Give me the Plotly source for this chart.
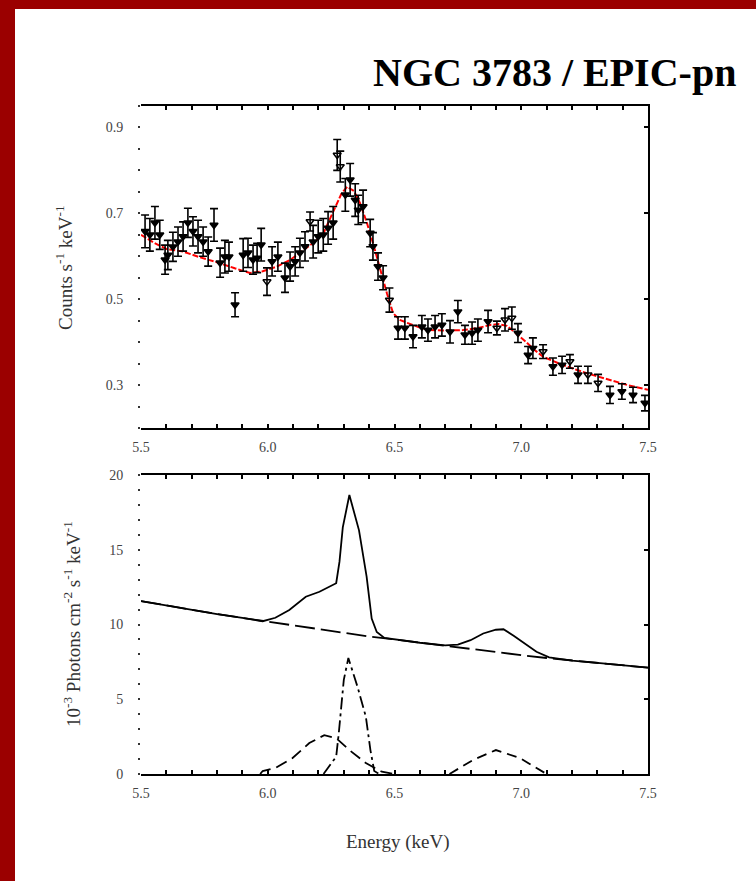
import plotly.graph_objects as go

# ---- Upper panel: EPIC-pn count spectrum ----
energy = [5.516, 5.535, 5.555, 5.574, 5.595, 5.606, 5.626, 5.646, 5.666, 5.685,
          5.705, 5.725, 5.745, 5.765, 5.788, 5.812, 5.831, 5.847, 5.871, 5.903,
          5.922, 5.942, 5.958, 5.974, 5.997, 6.017, 6.040, 6.068, 6.088, 6.108,
          6.127, 6.147, 6.167, 6.179, 6.199, 6.219, 6.238, 6.258, 6.274, 6.286,
          6.306, 6.325, 6.345, 6.357, 6.376, 6.404, 6.415, 6.435, 6.455, 6.480,
          6.514, 6.541, 6.573, 6.608, 6.632, 6.660, 6.687, 6.719, 6.750, 6.778,
          6.806, 6.829, 6.869, 6.904, 6.936, 6.963, 6.987, 7.027, 7.046, 7.086,
          7.125, 7.161, 7.192, 7.224, 7.263, 7.303, 7.350, 7.397, 7.441, 7.488]
counts = [0.658, 0.650, 0.678, 0.650, 0.592, 0.603, 0.622, 0.634, 0.646, 0.678,
          0.658, 0.646, 0.634, 0.611, 0.673, 0.585, 0.599, 0.599, 0.487, 0.603,
          0.608, 0.592, 0.596, 0.627, 0.541, 0.588, 0.599, 0.550, 0.576, 0.588,
          0.608, 0.623, 0.681, 0.634, 0.646, 0.650, 0.666, 0.678, 0.836, 0.809,
          0.743, 0.778, 0.731, 0.708, 0.716, 0.654, 0.623, 0.576, 0.550, 0.498,
          0.433, 0.433, 0.413, 0.436, 0.428, 0.436, 0.440, 0.424, 0.471, 0.417,
          0.421, 0.428, 0.448, 0.433, 0.452, 0.456, 0.421, 0.370, 0.386, 0.378,
          0.343, 0.347, 0.355, 0.324, 0.324, 0.305, 0.277, 0.285, 0.277, 0.258]
count_err = [0.038, 0.038, 0.038, 0.034, 0.034, 0.034, 0.034, 0.034, 0.034, 0.034,
             0.034, 0.038, 0.034, 0.034, 0.038, 0.034, 0.038, 0.034, 0.028, 0.038,
             0.034, 0.034, 0.034, 0.038, 0.032, 0.034, 0.034, 0.034, 0.034, 0.034,
             0.034, 0.034, 0.022, 0.038, 0.038, 0.038, 0.038, 0.038, 0.036, 0.036,
             0.038, 0.038, 0.038, 0.034, 0.038, 0.032, 0.032, 0.032, 0.028, 0.028,
             0.026, 0.026, 0.026, 0.026, 0.026, 0.026, 0.026, 0.026, 0.026, 0.022,
             0.026, 0.026, 0.026, 0.016, 0.026, 0.026, 0.022, 0.020, 0.024, 0.016,
             0.020, 0.020, 0.016, 0.020, 0.020, 0.020, 0.020, 0.018, 0.018, 0.018]
open_marker = [0, 0, 0, 0, 0, 0, 0, 0, 0, 0,
               0, 0, 0, 0, 0, 0, 0, 0, 0, 0,
               0, 0, 0, 0, 1, 0, 0, 0, 0, 0,
               0, 0, 1, 0, 0, 0, 0, 0, 1, 1,
               0, 0, 0, 0, 0, 0, 0, 0, 0, 1,
               0, 0, 0, 0, 0, 0, 0, 0, 0, 0,
               0, 0, 0, 1, 1, 1, 0, 0, 0, 1,
               0, 0, 1, 0, 1, 1, 0, 0, 0, 0]

model_e = [5.50, 5.55, 5.60, 5.666, 5.73, 5.80, 5.87, 5.93, 5.98, 6.036,
           6.09, 6.14, 6.19, 6.22, 6.26, 6.29, 6.313, 6.34, 6.364, 6.39,
           6.415, 6.44, 6.47, 6.494, 6.52, 6.55, 6.60, 6.64, 6.70, 6.77,
           6.83, 6.877, 6.91, 6.944, 6.98, 7.02, 7.05, 7.086, 7.15, 7.22,
           7.29, 7.35, 7.42, 7.50]
model_c = [0.650, 0.632, 0.617, 0.611, 0.598, 0.586, 0.572, 0.561, 0.565, 0.576,
           0.592, 0.615, 0.636, 0.654, 0.708, 0.745, 0.762, 0.752, 0.724, 0.680,
           0.631, 0.575, 0.514, 0.468, 0.452, 0.445, 0.434, 0.428, 0.427, 0.428,
           0.433, 0.440, 0.442, 0.438, 0.421, 0.400, 0.383, 0.366, 0.350, 0.335,
           0.322, 0.312, 0.300, 0.289]

# ---- Lower panel: unfolded model components ----
total_e = [5.50, 5.60, 5.70, 5.80, 5.90, 5.98, 6.03, 6.085, 6.15, 6.204,
           6.27, 6.283, 6.296, 6.322, 6.36, 6.39, 6.41, 6.43, 6.46, 6.50,
           6.60, 6.70, 6.75, 6.80, 6.85, 6.90, 6.93, 6.97, 7.00, 7.06,
           7.11, 7.20, 7.30, 7.40, 7.50]
total_f = [11.57, 11.27, 10.97, 10.70, 10.44, 10.22, 10.45, 10.97, 11.86, 12.19,
           12.76, 14.20, 16.50, 18.66, 16.30, 13.20, 10.40, 9.50, 9.10, 9.00,
           8.78, 8.60, 8.65, 8.95, 9.40, 9.65, 9.68, 9.25, 8.90, 8.18,
           7.80, 7.59, 7.43, 7.27, 7.11]

cont_e = [5.5, 5.6, 5.7, 5.8, 5.9, 6.0, 6.1, 6.2, 6.3, 6.4, 6.5,
          6.6, 6.7, 6.8, 6.9, 7.0, 7.1, 7.2, 7.3, 7.4, 7.5]
cont_f = [11.57, 11.27, 10.97, 10.70, 10.44, 10.19, 9.92, 9.65, 9.42, 9.20, 9.00,
          8.78, 8.56, 8.35, 8.15, 7.95, 7.76, 7.59, 7.43, 7.27, 7.11]

broad_e = [5.97, 5.98, 6.03, 6.098, 6.164, 6.223, 6.27, 6.322, 6.387, 6.45, 6.50]
broad_f = [0.0, 0.2, 0.4, 1.07, 2.07, 2.60, 2.40, 1.60, 0.73, 0.15, 0.0]

narrow_e = [6.22, 6.27, 6.28, 6.30, 6.318, 6.354, 6.387, 6.405, 6.42, 6.44]
narrow_f = [0.0, 1.16, 2.70, 6.30, 7.76, 5.84, 3.83, 1.60, 0.20, 0.0]

line69_e = [6.717, 6.81, 6.90, 6.994, 7.10]
line69_f = [0.0, 0.94, 1.60, 1.07, 0.0]

x_ticks = [5.5, 6.0, 6.5, 7.0, 7.5]
top_y_ticks = [0.3, 0.5, 0.7, 0.9]
bottom_y_ticks = [0, 5, 10, 15, 20]

W, H = 756, 881
SERIF = "Liberation Serif, Times New Roman, serif"
TICK_FONT = dict(family=SERIF, size=14, color="#444444")


def px_x(p):
    return p / W


def px_y(p):
    return 1 - p / H


fig = go.Figure()

fig.add_trace(go.Scatter(
    x=model_e, y=model_c, mode="lines",
    line=dict(color="#ff0000", width=2, dash="6px,2px"),
    xaxis="x", yaxis="y", showlegend=False, hoverinfo="skip"))

fig.add_trace(go.Scatter(
    x=energy, y=counts, mode="markers",
    marker=dict(symbol=["triangle-down-open" if o else "triangle-down" for o in open_marker],
                size=7, color="black", line=dict(color="black", width=1.5)),
    error_y=dict(type="data", array=count_err, color="black", thickness=1.6, width=4),
    xaxis="x", yaxis="y", showlegend=False))

line_specs = [
    (cont_e, cont_f, "20px,6px"),
    (total_e, total_f, "solid"),
    (broad_e, broad_f, "12px,6px"),
    (narrow_e, narrow_f, "12px,4px,3px,4px"),
    (line69_e, line69_f, "10px,6px"),
]
for xs, ys, dash in line_specs:
    fig.add_trace(go.Scatter(
        x=xs, y=ys, mode="lines",
        line=dict(color="black", width=1.8, dash=dash),
        xaxis="x2", yaxis="y2", showlegend=False, hoverinfo="skip"))

# empty traces so the mirrored right-hand axes are drawn
fig.add_trace(go.Scatter(x=[None], y=[None], xaxis="x", yaxis="y3",
                         showlegend=False, hoverinfo="skip"))
fig.add_trace(go.Scatter(x=[None], y=[None], xaxis="x2", yaxis="y4",
                         showlegend=False, hoverinfo="skip"))

x_dom = [px_x(141), px_x(648)]
top_dom = [px_y(428), px_y(106)]
bot_dom = [px_y(774), px_y(475)]

xaxis_common = dict(
    range=[5.5, 7.5], showline=True, linecolor="black", linewidth=2, mirror="ticks",
    ticks="inside", ticklen=4, tickwidth=1.5, tickcolor="black",
    tickvals=x_ticks, tickformat=".1f", showgrid=False, zeroline=False,
    tickfont=TICK_FONT, ticklabelstandoff=5, automargin=False,
    minor=dict(dtick=0.1, ticks="inside", ticklen=4, tickwidth=1.5, tickcolor="black"),
)
yleft_common = dict(
    showline=False, ticks="outside", ticklen=2, tickwidth=2, tickcolor="#333333",
    showgrid=False, zeroline=False, tickfont=TICK_FONT, ticklabelstandoff=12,
    automargin=False,
)
yright_common = dict(
    side="right", showline=True, linecolor="black", linewidth=2,
    ticks="inside", ticklen=4, tickwidth=1.5, tickcolor="black",
    showticklabels=False, showgrid=False, zeroline=False, automargin=False,
)

fig.update_layout(
    template="none",
    width=W, height=H, autosize=False,
    margin=dict(l=0, r=0, t=0, b=0, pad=0, autoexpand=False),
    paper_bgcolor="white", plot_bgcolor="white",
    xaxis=dict(domain=x_dom, anchor="y", **xaxis_common),
    yaxis=dict(domain=top_dom, anchor="x", range=[0.2, 0.95], tickvals=top_y_ticks,
               minor=dict(dtick=0.05, tick0=0.2, ticks="outside", ticklen=2, tickwidth=2,
                          tickcolor="#333333"),
               **yleft_common),
    yaxis3=dict(overlaying="y", anchor="x", range=[0.2, 0.95], tickvals=top_y_ticks,
                **yright_common),
    xaxis2=dict(domain=x_dom, anchor="y2", **xaxis_common),
    yaxis2=dict(domain=bot_dom, anchor="x2", range=[0, 20], tickvals=bottom_y_ticks,
                minor=dict(dtick=1, ticks="outside", ticklen=2, tickwidth=2,
                           tickcolor="#333333"),
                **yleft_common),
    yaxis4=dict(overlaying="y2", anchor="x2", range=[0, 20], tickvals=[5, 10, 15],
                **yright_common),
)

# dark red frame on the left and top edges
BORDER = "#9b0000"
fig.add_shape(type="rect", xref="paper", yref="paper", x0=0, x1=px_x(15), y0=0, y1=1,
              fillcolor=BORDER, line=dict(width=0), layer="below")
fig.add_shape(type="rect", xref="paper", yref="paper", x0=0, x1=1, y0=px_y(9), y1=1,
              fillcolor=BORDER, line=dict(width=0), layer="below")

fig.add_annotation(
    text="<b>NGC 3783 / EPIC-pn</b>", xref="paper", yref="paper",
    x=px_x(738), y=px_y(72), xanchor="right", yanchor="middle", showarrow=False,
    font=dict(family=SERIF, size=40, color="black"))

fig.add_annotation(
    text="Counts s<sup>-1</sup> keV<sup>-1</sup>", xref="paper", yref="paper",
    x=px_x(64), y=px_y(268), textangle=-90, showarrow=False,
    xanchor="center", yanchor="middle",
    font=dict(family=SERIF, size=19, color="#333333"))

fig.add_annotation(
    text="10<sup>-3</sup> Photons cm<sup>-2</sup> s<sup>-1</sup> keV<sup>-1</sup>",
    xref="paper", yref="paper",
    x=px_x(72), y=px_y(624), textangle=-90, showarrow=False,
    xanchor="center", yanchor="middle",
    font=dict(family=SERIF, size=19, color="#333333"))

fig.add_annotation(
    text="Energy (keV)", xref="paper", yref="paper",
    x=px_x(398), y=px_y(842), showarrow=False, xanchor="center", yanchor="middle",
    font=dict(family=SERIF, size=19, color="#333333"))

fig.write_html("out.html", post_script="document.body.style.margin='0px';")
